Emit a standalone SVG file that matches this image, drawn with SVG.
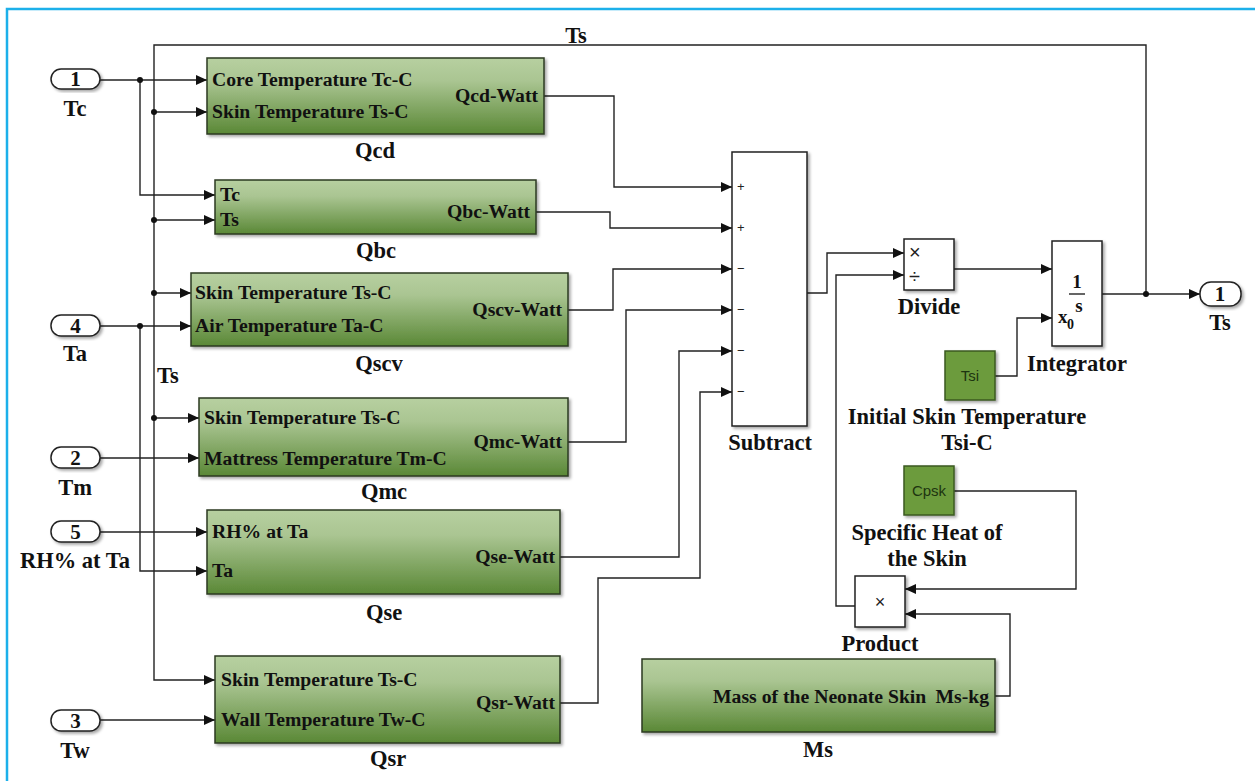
<svg xmlns="http://www.w3.org/2000/svg" width="1255" height="781" viewBox="0 0 1255 781">
<defs>
<linearGradient id="green" x1="0" y1="0" x2="0" y2="1">
<stop offset="0" stop-color="#b7d0a0"/>
<stop offset="0.3" stop-color="#aac592"/>
<stop offset="1" stop-color="#5a8836"/>
</linearGradient>
<filter id="sh" x="-10%" y="-10%" width="125%" height="130%">
<feDropShadow dx="2" dy="2" stdDeviation="1.8" flood-color="#000" flood-opacity="0.35"/>
</filter>
<marker id="ar" markerUnits="userSpaceOnUse" markerWidth="11" markerHeight="10" refX="11" refY="5" orient="auto">
<path d="M0,0 L11,5 L0,10 z" fill="#111"/>
</marker>
</defs>
<style>
.blk{fill:url(#green);stroke:#2b3a22;stroke-width:1.5;filter:url(#sh)}
.wb{fill:#fff;stroke:#222;stroke-width:1.5;filter:url(#sh)}
.cb{fill:#6c9b3e;stroke:#3b5a22;stroke-width:1.5;filter:url(#sh)}
.port{fill:#fff;stroke:#222;stroke-width:1.5;filter:url(#sh)}
.t{font-family:"Liberation Serif","Times New Roman",serif;font-weight:bold;font-size:19.7px;fill:#111}
.lbl{font-family:"Liberation Serif","Times New Roman",serif;font-weight:bold;font-size:22.5px;fill:#111;text-anchor:middle}
.pn{font-family:"Liberation Serif","Times New Roman",serif;font-weight:bold;font-size:21px;fill:#111;text-anchor:middle}
.s{font-family:"Liberation Sans",Arial,sans-serif;font-size:13px;fill:#222}
.c{font-family:"Liberation Sans",Arial,sans-serif;font-size:15px;fill:#1d3410;text-anchor:middle}
.ln{fill:none;stroke:#222;stroke-width:1.4}
.dot{fill:#111}
.r{text-anchor:end}
</style>
<rect width="1255" height="781" fill="#fff"/>
<path d="M7,781 V9 H1255" fill="none" stroke="#1cb0ea" stroke-width="2.5"/>

<g id="connectors">
<polyline class="ln" points="1146,294 1146,45 154,45 154,680 215,680" marker-end="url(#ar)"/>
<text class="lbl" x="576" y="43">Ts</text>
<text class="lbl" x="157" y="383" style="text-anchor:start">Ts</text>
<polyline class="ln" points="100,80 207,80" marker-end="url(#ar)"/>
<polyline class="ln" points="140,80 140,195 215,195" marker-end="url(#ar)"/>
<circle class="dot" cx="140" cy="80" r="3"/>
<polyline class="ln" points="154,112 207,112" marker-end="url(#ar)"/>
<circle class="dot" cx="154" cy="112" r="3"/>
<polyline class="ln" points="154,220 215,220" marker-end="url(#ar)"/>
<circle class="dot" cx="154" cy="220" r="3"/>
<polyline class="ln" points="154,293 191,293" marker-end="url(#ar)"/>
<circle class="dot" cx="154" cy="293" r="3"/>
<polyline class="ln" points="154,418 199,418" marker-end="url(#ar)"/>
<circle class="dot" cx="154" cy="418" r="3"/>
<polyline class="ln" points="100,326 191,326" marker-end="url(#ar)"/>
<polyline class="ln" points="140,326 140,571 207,571" marker-end="url(#ar)"/>
<circle class="dot" cx="140" cy="326" r="3"/>
<polyline class="ln" points="100,458 199,458" marker-end="url(#ar)"/>
<polyline class="ln" points="100,532 207,532" marker-end="url(#ar)"/>
<polyline class="ln" points="100,720 215,720" marker-end="url(#ar)"/>
<polyline class="ln" points="544,96 614,96 614,187 732,187" marker-end="url(#ar)"/>
<polyline class="ln" points="536,212 610,212 610,228 732,228" marker-end="url(#ar)"/>
<polyline class="ln" points="568,310 613,310 613,269 732,269" marker-end="url(#ar)"/>
<polyline class="ln" points="568,442 626,442 626,310 732,310" marker-end="url(#ar)"/>
<polyline class="ln" points="560,557 679,557 679,351 732,351" marker-end="url(#ar)"/>
<polyline class="ln" points="560,703 598,703 598,578 700,578 700,392 732,392" marker-end="url(#ar)"/>
<polyline class="ln" points="807,293 827,293 827,253 904,253" marker-end="url(#ar)"/>
<polyline class="ln" points="855,606 836,606 836,275 904,275" marker-end="url(#ar)"/>
<polyline class="ln" points="954,269 1052,269" marker-end="url(#ar)"/>
<polyline class="ln" points="995,376 1017,376 1017,318 1052,318" marker-end="url(#ar)"/>
<polyline class="ln" points="1102,294 1200,294" marker-end="url(#ar)"/>
<circle class="dot" cx="1146" cy="294" r="3"/>
<polyline class="ln" points="954,491 1076,491 1076,589 905,589" marker-end="url(#ar)"/>
<polyline class="ln" points="995,696 1010,696 1010,614 905,614" marker-end="url(#ar)"/>
</g>

<g id="in1">
<rect class="port" x="51" y="69" width="49" height="20" rx="10"/>
<text class="pn" x="75.5" y="86">1</text>
<text class="lbl" x="75" y="116">Tc</text>
</g>
<g id="in4">
<rect class="port" x="51" y="315" width="49" height="21" rx="10"/>
<text class="pn" x="75.5" y="333">4</text>
<text class="lbl" x="75" y="361">Ta</text>
</g>
<g id="in2">
<rect class="port" x="51" y="447" width="49" height="21" rx="10"/>
<text class="pn" x="75.5" y="465">2</text>
<text class="lbl" x="75" y="495">Tm</text>
</g>
<g id="in5">
<rect class="port" x="51" y="521" width="49" height="21" rx="10"/>
<text class="pn" x="75.5" y="539">5</text>
<text class="lbl" x="75" y="568">RH% at Ta</text>
</g>
<g id="in3">
<rect class="port" x="51" y="710" width="49" height="21" rx="10"/>
<text class="pn" x="75.5" y="728">3</text>
<text class="lbl" x="75" y="758">Tw</text>
</g>

<g id="Qcd">
<rect class="blk" x="207" y="58" width="337" height="76"/>
<text class="t" x="212" y="86">Core Temperature Tc-C</text>
<text class="t" x="212" y="118">Skin Temperature Ts-C</text>
<text class="t r" x="538" y="102">Qcd-Watt</text>
<text class="lbl" x="375" y="158">Qcd</text>
</g>
<g id="Qbc">
<rect class="blk" x="215" y="180" width="321" height="54"/>
<text class="t" x="220" y="201">Tc</text>
<text class="t" x="220" y="226">Ts</text>
<text class="t r" x="530" y="218">Qbc-Watt</text>
<text class="lbl" x="376" y="258">Qbc</text>
</g>
<g id="Qscv">
<rect class="blk" x="191" y="273" width="377" height="73"/>
<text class="t" x="195" y="299">Skin Temperature Ts-C</text>
<text class="t" x="195" y="332">Air Temperature Ta-C</text>
<text class="t r" x="562" y="316">Qscv-Watt</text>
<text class="lbl" x="379" y="371">Qscv</text>
</g>
<g id="Qmc">
<rect class="blk" x="199" y="398" width="369" height="78"/>
<text class="t" x="204" y="424">Skin Temperature Ts-C</text>
<text class="t" x="204" y="465">Mattress Temperature Tm-C</text>
<text class="t r" x="562" y="448">Qmc-Watt</text>
<text class="lbl" x="384" y="499">Qmc</text>
</g>
<g id="Qse">
<rect class="blk" x="207" y="510" width="353" height="84"/>
<text class="t" x="212" y="538">RH% at Ta</text>
<text class="t" x="212" y="577">Ta</text>
<text class="t r" x="555" y="563">Qse-Watt</text>
<text class="lbl" x="384" y="620">Qse</text>
</g>
<g id="Qsr">
<rect class="blk" x="215" y="656" width="345" height="87"/>
<text class="t" x="221" y="686">Skin Temperature Ts-C</text>
<text class="t" x="221" y="726">Wall Temperature Tw-C</text>
<text class="t r" x="555" y="709">Qsr-Watt</text>
<text class="lbl" x="388" y="766">Qsr</text>
</g>

<g id="Subtract">
<rect class="wb" x="732" y="152" width="75" height="274"/>
<text class="s" x="737" y="191">+</text>
<text class="s" x="737" y="232">+</text>
<text class="s" x="737" y="273">−</text>
<text class="s" x="737" y="314">−</text>
<text class="s" x="737" y="355">−</text>
<text class="s" x="737" y="396">−</text>
<text class="lbl" x="770" y="450">Subtract</text>
</g>

<g id="Divide">
<rect class="wb" x="904" y="239" width="50" height="51"/>
<text class="s" x="909" y="259" style="font-size:20px">×</text>
<text class="s" x="909" y="283" style="font-size:20px">÷</text>
<text class="lbl" x="929" y="314">Divide</text>
</g>

<g id="Integrator">
<rect class="wb" x="1052" y="241" width="50" height="105"/>
<text class="pn" x="1077" y="288" style="font-size:19px">1</text>
<line x1="1069" y1="294" x2="1085" y2="294" stroke="#111" stroke-width="1.3"/>
<text class="pn" x="1079" y="312" style="font-size:19px">s</text>
<text class="t" x="1058" y="323" style="font-size:19px">x</text>
<text class="t" x="1067" y="329" style="font-size:14px">0</text>
<text class="lbl" x="1077" y="371">Integrator</text>
</g>

<g id="out1">
<rect class="port" x="1200" y="282" width="41" height="24" rx="11"/>
<text class="pn" x="1220" y="301">1</text>
<text class="lbl" x="1220" y="330">Ts</text>
</g>

<g id="Tsi">
<rect class="cb" x="945" y="351" width="50" height="49"/>
<text class="c" x="970" y="381">Tsi</text>
<text class="lbl" x="967" y="424">Initial Skin Temperature</text>
<text class="lbl" x="967" y="450">Tsi-C</text>
</g>

<g id="Cpsk">
<rect class="cb" x="904" y="466" width="50" height="49"/>
<text class="c" x="929" y="496">Cpsk</text>
<text class="lbl" x="927" y="540">Specific Heat of</text>
<text class="lbl" x="927" y="566">the Skin</text>
</g>

<g id="Product">
<rect class="wb" x="855" y="576" width="50" height="51"/>
<text class="s" x="880" y="608" style="font-size:18px;text-anchor:middle">×</text>
<text class="lbl" x="880" y="651">Product</text>
</g>

<g id="Ms">
<rect class="blk" x="642" y="659" width="353" height="73"/>
<text class="t" x="713" y="703">Mass of the Neonate Skin</text>
<text class="t r" x="989" y="703">Ms-kg</text>
<text class="lbl" x="818" y="757">Ms</text>
</g>
</svg>
